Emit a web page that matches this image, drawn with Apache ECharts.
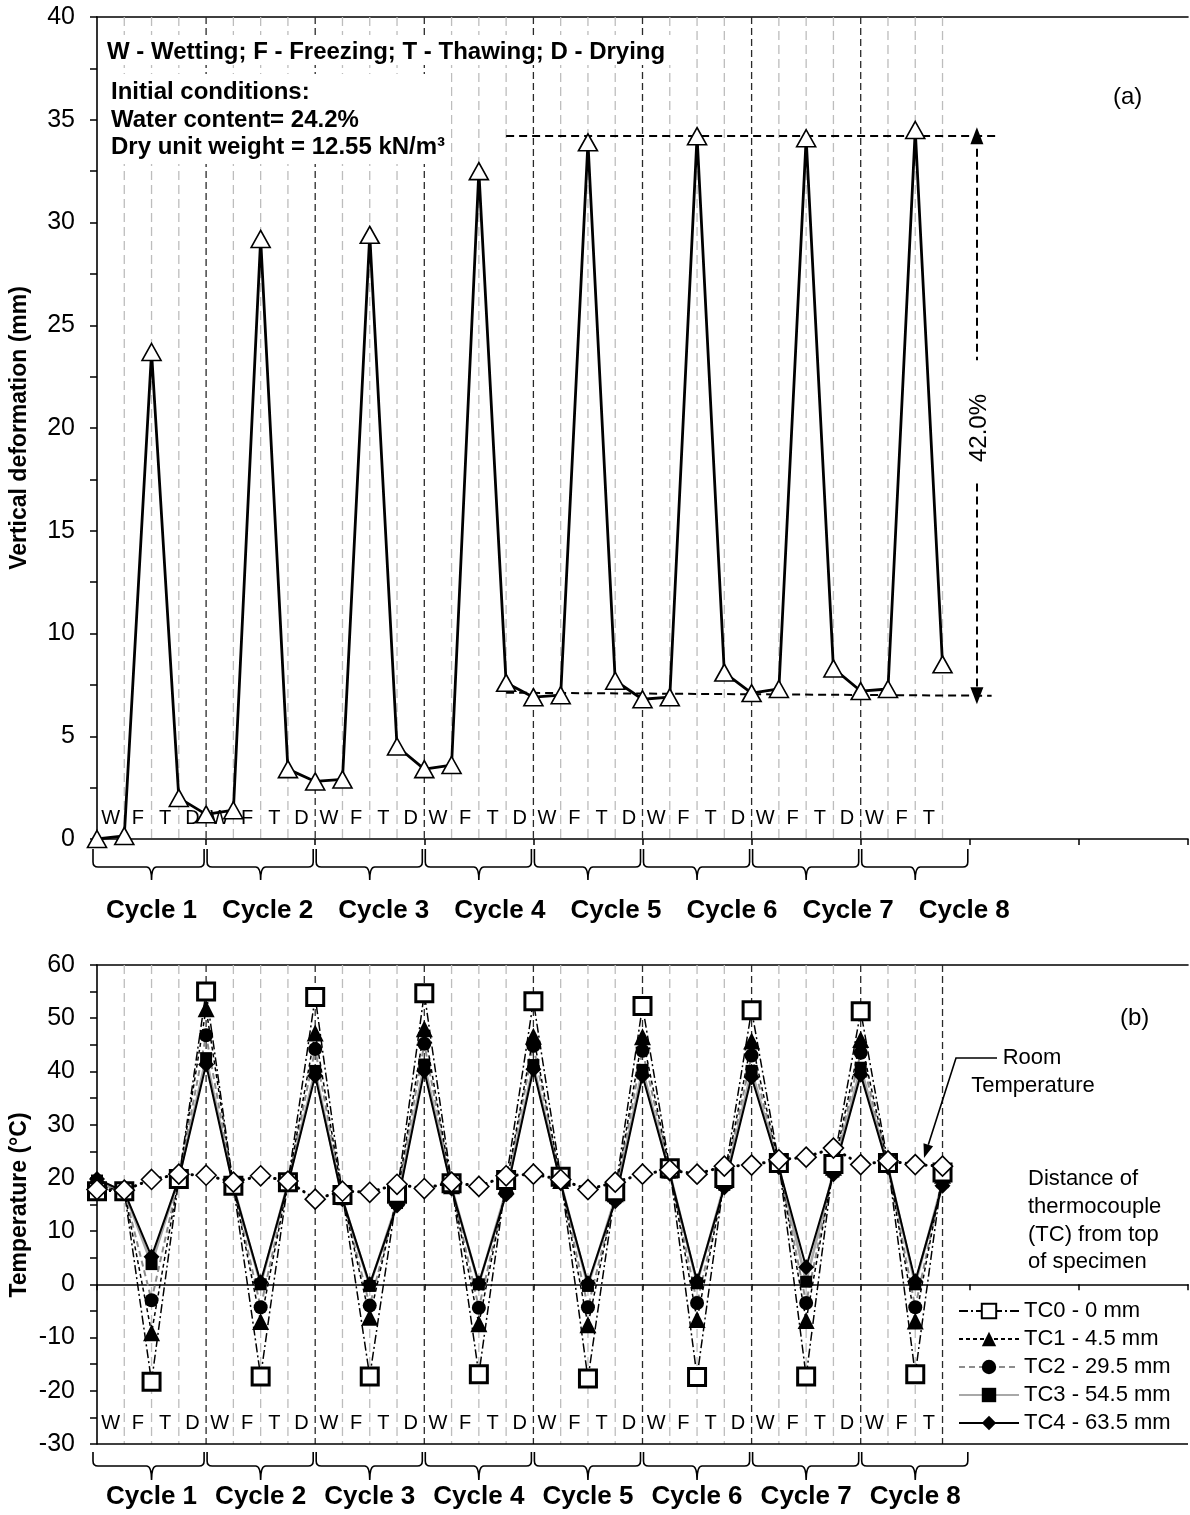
<!DOCTYPE html>
<html><head><meta charset="utf-8">
<script src="https://cdn.jsdelivr.net/npm/echarts@6/dist/echarts.min.js"></script>
<style>html,body{margin:0;padding:0;background:#fff;}#c{width:1190px;height:1515px;}</style>
</head><body><div id="c"></div>
<script>
const FONT = '"Liberation Sans", Arial, Helvetica, sans-serif';

// ---------- data ----------
const stageLetters = ['W','F','T','D','W','F','T','D','W','F','T','D','W','F','T','D',
                      'W','F','T','D','W','F','T','D','W','F','T','D','W','F','T'];
const cycleNames = ['Cycle 1','Cycle 2','Cycle 3','Cycle 4','Cycle 5','Cycle 6','Cycle 7','Cycle 8'];
const cycleBounds = [[0,4],[4,8],[8,12],[12,16],[16,20],[20,24],[24,28],[28,32]];
const gridSteps = [1,2,3,4,5,6,7,8,9,10,11,12,13,14,15,16,17,18,19,20,21,22,23,24,25,26,27,28,29,30,31];

// (a) vertical deformation (mm) at each stage point
const deformation = [0.0,0.15,23.7,2.0,1.2,1.4,29.2,3.4,2.8,2.9,29.4,4.5,3.4,3.6,32.5,7.6,
                     6.9,7.0,33.9,7.7,6.8,6.9,34.2,8.1,7.1,7.3,34.1,8.3,7.2,7.3,34.5,8.5];
const bandTop = 34.22, bandBottom = 6.97;

// (b) temperatures (°C)
const tc0 = [17.5,17.5,-18.3,19.8,55.0,18.5,-17.3,19.2,54.0,16.8,-17.3,17.0,54.7,19.0,-16.9,19.6,
             53.2,20.2,-17.7,17.5,52.3,21.8,-17.4,20.0,51.5,22.8,-17.3,22.6,51.3,22.8,-16.9,21.0];
const tc1 = [18.5,17.5,-9.1,20.0,51.8,18.5,-7.0,19.0,47.2,16.5,-6.2,16.5,48.0,18.5,-7.4,18.5,
             46.6,19.5,-7.6,17.0,46.5,21.5,-6.6,19.5,45.7,22.5,-6.8,22.0,46.0,22.5,-6.9,20.5];
const tc2 = [19.0,17.5,-3.0,20.0,46.8,18.5,-4.3,19.0,44.2,16.3,-4.0,16.0,45.2,18.3,-4.4,18.0,
             44.8,19.3,-4.3,16.5,43.9,21.3,-3.5,19.0,43.0,22.3,-3.5,21.5,43.5,22.3,-4.3,19.8];
const tc3 = [19.5,17.5,3.8,20.0,42.5,18.5,0.0,19.0,40.1,16.0,-0.3,15.3,41.3,18.3,0.0,17.5,
             41.2,19.2,-0.3,16.2,40.3,21.0,0.2,18.7,40.1,22.2,0.5,21.2,40.7,22.2,0.0,19.2];
const tc4 = [19.8,17.4,5.2,19.8,41.3,18.3,0.4,18.8,39.2,16.0,0.0,14.8,40.1,18.0,0.2,16.9,
             40.4,19.0,0.2,15.6,39.2,20.8,0.6,18.2,38.9,22.0,3.2,20.7,39.4,22.0,0.6,18.5];
const room = [17.8,17.7,19.7,20.7,20.5,19.2,20.4,19.4,16.0,17.5,17.3,18.8,18.0,19.2,18.4,20.4,
              20.7,19.7,17.8,19.2,20.7,21.5,20.7,22.2,22.4,23.4,23.9,25.6,22.5,23.2,22.5,22.2];
const tcNames = ['TC0 - 0 mm','TC1 - 4.5 mm','TC2 - 29.5 mm','TC3 - 54.5 mm','TC4 - 63.5 mm'];

const deformAxis = {min:0, max:40, interval:5};
const tempAxis = {min:-30, max:60, interval:10};
const stepAxis = {min:0, max:40, interval:4};

// ---------- helpers ----------
const pts = arr => arr.map((v,i)=>[i,v]);
const BLACK = '#000';

function gridLines(xi, yi, yr, lastBlack){
  return {type:'custom', xAxisIndex:xi, yAxisIndex:yi, z:1, silent:true, clip:false,
    data: gridSteps.map(s=>[s]), encode:{x:0},
    renderItem:(p, api)=>{
      const v = api.value(0);
      const a = api.coord([v, yr[1]]), b = api.coord([v, yr[0]]);
      const major = (v % 4 === 0) || (lastBlack && v === 31);
      return {type:'line', shape:{x1:a[0],y1:a[1],x2:b[0],y2:b[1]},
        style:{stroke: major ? '#2a2a2a' : '#bdbdbd', lineWidth: 1.3, lineDash: major ? [7,4] : [9,5]}};
    }};
}
function stageSeries(xi, yi, base){
  return {type:'custom', xAxisIndex:xi, yAxisIndex:yi, z:3, silent:true, clip:false,
    data: stageLetters.map((s,i)=>[i+0.5]), encode:{x:0},
    renderItem:(p, api)=>{
      const c = api.coord([api.value(0), base]);
      return {type:'text', x:c[0], y:c[1]-21,
        style:{text: stageLetters[p.dataIndex], fill:BLACK, font:'20px '+FONT,
          align:'center', verticalAlign:'middle', textAlign:'center', textVerticalAlign:'middle'}};
    }};
}
function braceSeries(xi, yi, base, off, labelDy, labelShift){
  return {type:'custom', xAxisIndex:xi, yAxisIndex:yi, z:3, silent:true, clip:false,
    data: cycleBounds, encode:{x:[0,1]},
    renderItem:(p, api)=>{
      const k = p.dataIndex;
      const pa = api.coord([api.value(0), base]), pb = api.coord([api.value(1), base]);
      const xa = pa[0] + (k===0 ? -4 : 1), xb = pb[0] - 2, y = pa[1];
      const y0 = y+off[0], y1 = y+off[1], y2 = y+off[2], xm = (pa[0]+pb[0])/2, r = 5;
      const d = `M${xa},${y0} L${xa},${y1-r} Q${xa},${y1} ${xa+r},${y1} L${xm-r},${y1} Q${xm},${y1} ${xm},${y2} `+
                `M${xm},${y2} Q${xm},${y1} ${xm+r},${y1} L${xb-r},${y1} Q${xb},${y1} ${xb},${y1-r} L${xb},${y0}`;
      return {type:'group', children:[
        {type:'path', shape:{pathData:d}, style:{fill:null, stroke:BLACK, lineWidth:1.6}},
        {type:'text', x: xm + labelShift*k, y: y + labelDy,
          style:{text: cycleNames[k], fill:BLACK, font:'bold 26px '+FONT,
            align:'center', verticalAlign:'middle', textAlign:'center', textVerticalAlign:'middle'}}
      ]};
    }};
}
function xAxes(gi){
  return [
    {gridIndex:gi, type:'value', min:stepAxis.min, max:stepAxis.max, interval:stepAxis.interval, position:'bottom',
      axisLine:{show:true, onZero:true, lineStyle:{color:BLACK, width:1.6}},
      axisTick:{show:true, length:6, lineStyle:{color:BLACK, width:1.5}},
      axisLabel:{show:false}, splitLine:{show:false}},
    {gridIndex:gi, type:'value', min:stepAxis.min, max:stepAxis.max, position:'top',
      axisLine:{show:true, onZero:false, lineStyle:{color:BLACK, width:1.6}},
      axisTick:{show:false}, axisLabel:{show:false}, splitLine:{show:false}}
  ];
}
function yAxis(gi, ax){
  return {gridIndex:gi, type:'value', min:ax.min, max:ax.max, interval:ax.interval,
    axisLine:{show:true, lineStyle:{color:BLACK, width:1.6}},
    axisTick:{show:true, length:7, lineStyle:{color:BLACK, width:1.5}},
    minorTick:{show:true, splitNumber:2, length:7, lineStyle:{color:BLACK, width:1.5}},
    axisLabel:{color:BLACK, fontSize:25, fontFamily:FONT, margin:22},
    splitLine:{show:false}, minorSplitLine:{show:false}};
}
function tcSeries(name, data, symbol, size, itemStyle, lineStyle){
  return {name, type:'line', xAxisIndex:2, yAxisIndex:1, data:pts(data), z:5,
    symbol, symbolSize:size, itemStyle, lineStyle, showAllSymbol:true, silent:true, clip:false};
}

const txt = (text, x, y, font, extra) => Object.assign({type:'text', x, y, z:100,
  style:{text, fill:BLACK, font: font + ' ' + FONT, align:'left', verticalAlign:'middle',
         textAlign:'left', textVerticalAlign:'middle'}}, extra||{});

const chart = echarts.init(document.getElementById('c'), null, {renderer:'canvas'});
chart.setOption({
  animation:false,
  backgroundColor:'#fff',
  grid:[
    {left:97, right:2, top:17, bottom:1515-839},
    {left:97, right:2, top:965, bottom:1515-1444}
  ],
  xAxis:[...xAxes(0), ...xAxes(1)],
  yAxis:[yAxis(0, deformAxis), yAxis(1, tempAxis)],
  legend:{orient:'vertical', left:953, top:1295, itemWidth:60, itemHeight:18, itemGap:6,
    selectedMode:false, data:tcNames,
    textStyle:{color:BLACK, fontSize:22, fontFamily:FONT, lineHeight:22}},
  series:[
    gridLines(0, 0, [deformAxis.min, deformAxis.max], false),
    gridLines(2, 1, [tempAxis.min, tempAxis.max], true),
    stageSeries(0, 0, 0),
    stageSeries(2, 1, tempAxis.min),
    braceSeries(0, 0, 0, [10,28,41], 72, 7),
    braceSeries(2, 1, tempAxis.min, [8,22,36], 53, 0),
    {name:'Vertical deformation', type:'line', xAxisIndex:0, yAxisIndex:0, data:pts(deformation), z:5,
      symbol:'triangle', symbolSize:[19,17], silent:true,
      itemStyle:{color:'#fff', borderColor:BLACK, borderWidth:1.6},
      lineStyle:{color:BLACK, width:2.8},
      markLine:{silent:true, symbol:'none', label:{show:false}, animation:false,
        lineStyle:{color:BLACK, type:[8,5], width:2},
        data:[
          [{coord:[15, bandTop]},{coord:[33, bandTop]}],
          [{coord:[15, bandBottom+0.15]},{coord:[32.8, bandBottom]}],
          [{coord:[32.26, bandTop], symbol:'triangle', symbolSize:[13,17]},{coord:[32.26, 23.3]}],
          [{coord:[32.26, 17.3]},{coord:[32.26, bandBottom], symbol:'triangle', symbolSize:[13,17]}]
        ]}},
    tcSeries(tcNames[3], tc3, 'rect', 12, {color:BLACK}, {color:'#a8a8a8', width:2.6}),
    tcSeries(tcNames[2], tc2, 'circle', 14, {color:BLACK}, {color:'#8c8c8c', width:2, type:[6,4]}),
    tcSeries(tcNames[1], tc1, 'triangle', 17, {color:BLACK}, {color:BLACK, width:1.5, type:[4,3]}),
    tcSeries(tcNames[4], tc4, 'diamond', 16, {color:BLACK}, {color:BLACK, width:2}),
    tcSeries(tcNames[0], tc0, 'rect', 17, {color:'#fff', borderColor:BLACK, borderWidth:3},
             {color:BLACK, width:1.5, type:[9,3,2,3]}),
    Object.assign(tcSeries('Room Temperature', room, 'diamond', 20, {color:'#fff', borderColor:BLACK, borderWidth:1.6},
             {color:BLACK, width:3, type:[0.5,6], cap:'round'}), {z:6,
      markLine:{silent:true, symbol:'none', label:{show:false}, animation:false,
        lineStyle:{color:BLACK, type:'solid', width:1.6},
        data:[{yAxis: tempAxis.min}]}})
  ],
  graphic:[
    {type:'rect', z:90, shape:{x:99, y:35, width:580, height:30}, style:{fill:'#fff'}},
    {type:'rect', z:90, shape:{x:99, y:74, width:352, height:90}, style:{fill:'#fff'}},
    txt('W - Wetting; F - Freezing; T - Thawing; D - Drying', 107, 52, 'bold 24px'),
    txt('Initial conditions:', 111, 92, 'bold 24px'),
    txt('Water content= 24.2%', 111, 120, 'bold 24px'),
    txt('Dry unit weight = 12.55 kN/m³', 111, 147, 'bold 24px'),
    txt('(a)', 1113, 97, '24px'),
    txt('(b)', 1120, 1018, '24px'),
    {type:'text', z:100, x:979, y:428, rotation:Math.PI/2,
      style:{text:'42.0%', fill:BLACK, font:'24px '+FONT, align:'center', verticalAlign:'middle', textAlign:'center', textVerticalAlign:'middle'}},
    {type:'text', z:100, x:20, y:428, rotation:Math.PI/2,
      style:{text:'Vertical deformation (mm)', fill:BLACK, font:'bold 23px '+FONT, align:'center', verticalAlign:'middle', textAlign:'center', textVerticalAlign:'middle'}},
    {type:'text', z:100, x:20, y:1205, rotation:Math.PI/2,
      style:{text:'Temperature (°C)', fill:BLACK, font:'bold 23px '+FONT, align:'center', verticalAlign:'middle', textAlign:'center', textVerticalAlign:'middle'}},
    txt('Distance of', 1028, 1179, '22px'),
    txt('thermocouple', 1028, 1207, '22px'),
    txt('(TC) from top', 1028, 1235, '22px'),
    txt('of specimen', 1028, 1262, '22px'),
    {type:'text', z:100, x:1032, y:1058, style:{text:'Room', fill:BLACK, font:'22px '+FONT, align:'center', verticalAlign:'middle', textAlign:'center', textVerticalAlign:'middle'}},
    {type:'text', z:100, x:1033, y:1086, style:{text:'Temperature', fill:BLACK, font:'22px '+FONT, align:'center', verticalAlign:'middle', textAlign:'center', textVerticalAlign:'middle'}},
    {type:'polyline', z:100, shape:{points:[[997,1058],[956,1058],[928.3,1144.7]]}, style:{stroke:BLACK, lineWidth:1.6, fill:null}},
    {type:'polygon', z:100, shape:{points:[[924,1158],[933.1,1146.2],[923.5,1143.2]]}, style:{fill:BLACK}}
  ]
});
</script></body></html>
